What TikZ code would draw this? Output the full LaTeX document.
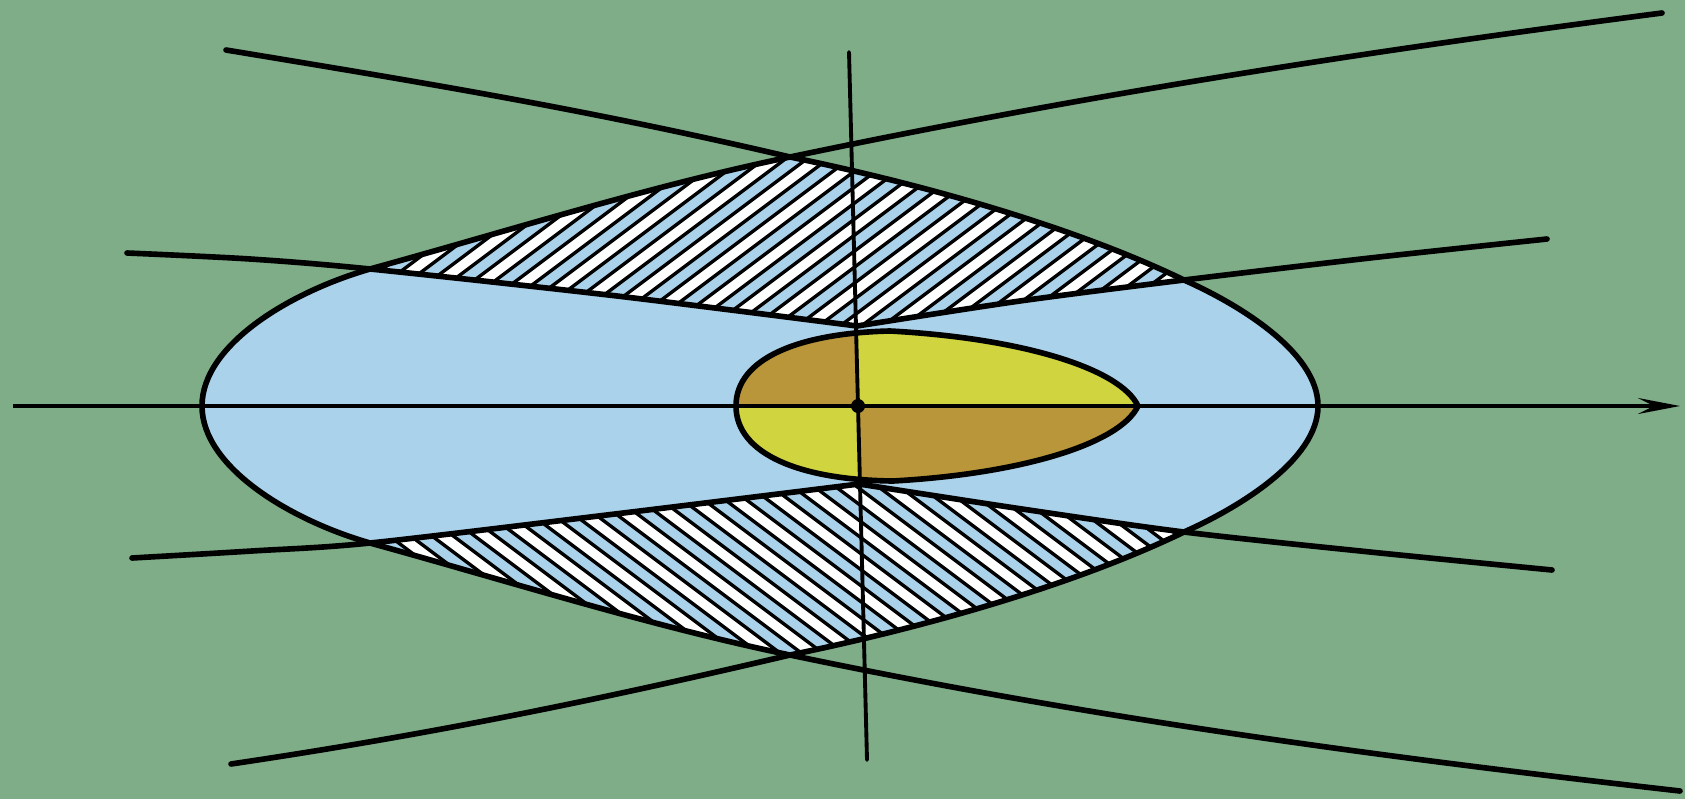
\documentclass[tikz,border=0pt]{standalone}
\usepackage{tikz}
\usetikzlibrary{arrows.meta}

\definecolor{bggreen}{RGB}{126,173,136}
\definecolor{lensblue}{RGB}{170,210,235}
\definecolor{yolk}{RGB}{208,212,62}
\definecolor{ochre}{RGB}{186,150,58}

% closed outlines used more than once
\newcommand{\lenspath}{(790,157) .. controls (912,182) and (1068,224) .. (1184,280)
  .. controls (1238,304) and (1318,352) .. (1318,406)
  .. controls (1318,460) and (1238,508) .. (1184,532)
  .. controls (1068,588) and (912,630) .. (790,655)
  .. controls (650,626) and (508,581) .. (370,543)
  .. controls (290,520) and (202,467) .. (202,406)
  .. controls (202,345) and (290,292) .. (370,269)
  .. controls (508,231) and (650,186) .. cycle}
\newcommand{\yolkpath}{(736,406) .. controls (736,358) and (800,333) .. (890,331)
  .. controls (1020,338) and (1120,368) .. (1138,406)
  .. controls (1120,444) and (1020,474) .. (893,481)
  .. controls (800,480) and (736,454) .. cycle}

\begin{document}
\begin{tikzpicture}[
    x=0.1mm, y=-0.1mm,
    >=Stealth,
    curve/.style={line width=1.6pt, line cap=round, line join=round},
    axis/.style={line width=1.1pt},
    hatch/.style={line width=0.95pt},
    band/.style={white, line width=2.9pt}
]
    % Frame
    \fill[bggreen] (0,0) rectangle (1685,799);
    \useasboundingbox (0,0) rectangle (1685,799);

    % Key points
    \coordinate (O) at (858,406);
    \coordinate (vtop) at (849,52);
    \coordinate (vbot) at (867,760);
    \coordinate (xleft) at (13,406);
    \coordinate (xright) at (1680,406);
    \coordinate (apexT) at (790,157);
    \coordinate (apexB) at (790,655);

    % Lens
    \fill[lensblue] \lenspath;

    % Upper hatched band
    \begin{scope}
        \clip \lenspath;
        \clip (127,0) -- plot[smooth] coordinates {(127,253) (250,259) (370,269) (617,296) (857,326)}
            -- plot[smooth] coordinates {(857,326) (1020,301) (1184,280) (1370,258) (1547,239)}
            -- (1547,0) -- cycle;
        \foreach \j in {0,...,20} \draw[band] (300,{323+32*\j}) -- ++(1000,-750);
        \foreach \i in {0,...,41} \draw[hatch] (300,{315+16*\i}) -- ++(1000,-750);
    \end{scope}

    % Lower hatched band
    \begin{scope}
        \clip \lenspath;
        \clip (132,799) -- plot[smooth] coordinates {(132,558) (252,551) (370,543) (615,514) (859,484)}
            -- plot[smooth] coordinates {(859,484) (1022,509) (1184,532) (1370,552) (1552,570)}
            -- (1552,799) -- cycle;
        \foreach \j in {0,...,20} \draw[band] (300,{-147+32*\j}) -- ++(1000,750);
        \foreach \i in {0,...,41} \draw[hatch] (300,{-155+16*\i}) -- ++(1000,750);
    \end{scope}

    % Inner oval
    \fill[yolk] \yolkpath;
    \begin{scope}
        \clip \yolkpath;
        \fill[ochre] (vtop) -- (O) -- (0,406) -- (0,0) -- cycle;
        \fill[ochre] (O) -- (vbot) -- (1685,799) -- (1685,406) -- cycle;
    \end{scope}
    \draw[curve] \yolkpath;

    % Lens outline and its tails
    \draw[curve] \lenspath;
    \draw[curve] (apexT) .. controls (1090,94) and (1362,52) .. (1662,13);
    \draw[curve] (apexT) .. controls (590,110) and (426,83) .. (226,50);
    \draw[curve] (apexB) .. controls (590,702) and (426,735) .. (231,764);
    \draw[curve] (apexB) .. controls (1090,718) and (1380,757) .. (1680,791);

    % Inner curves
    \draw[curve] plot[smooth] coordinates {(127,253) (250,259) (370,269) (617,296) (857,326)};
    \draw[curve] plot[smooth] coordinates {(857,326) (1020,301) (1184,280) (1370,258) (1547,239)};
    \draw[curve] plot[smooth] coordinates {(132,558) (252,551) (370,543) (615,514) (859,484)};
    \draw[curve] plot[smooth] coordinates {(859,484) (1022,509) (1184,532) (1370,552) (1552,570)};

    % Axes
    \draw[axis, -{Stealth[length=4.2mm, width=1.6mm, inset=1.6mm]}] (xleft) -- (xright);
    \draw[axis, line cap=round] (vtop) -- (vbot);
    \fill (O) circle[radius=0.7mm];
\end{tikzpicture}
\end{document}
